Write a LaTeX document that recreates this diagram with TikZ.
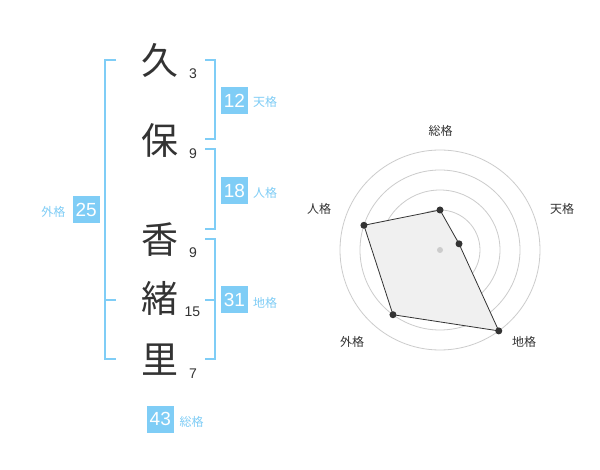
\documentclass[tikz,border=0pt]{standalone}
\usepackage{fontspec}
\setmainfont{Liberation Sans}
\newfontfamily\cjk{Noto Sans CJK JP}
\definecolor{dark}{HTML}{333333}
\definecolor{boxblue}{HTML}{7FCDF6}
\definecolor{lblblue}{HTML}{7FCDF6}
\definecolor{ringgray}{HTML}{CCCCCC}
\definecolor{polyfill}{HTML}{F0F0F0}
\tikzset{
  kanji/.style={inner sep=0pt, text=dark, font=\cjk\fontsize{37}{37}\selectfont},
  strokes/.style={inner sep=0pt, text=dark, font=\fontsize{14}{14}\selectfont},
  valbox/.style={fill=boxblue, text=white, minimum size=27pt, inner sep=0pt, font=\fontsize{19}{19}\selectfont},
  lbl/.style={inner sep=0pt, text=lblblue, font=\cjk\fontsize{12}{12}\selectfont},
  brk/.style={draw=boxblue, line width=2pt},
  ring/.style={draw=ringgray, line width=0.8pt},
  radarlbl/.style={inner sep=0pt, text=dark, font=\cjk\fontsize{12}{12}\selectfont},
  poly/.style={draw=dark, fill=polyfill, line width=0.8pt},
  pdot/.style={circle, fill=dark, inner sep=0pt, minimum size=7pt},
  cdot/.style={circle, fill=ringgray, inner sep=0pt, minimum size=6pt}
}
\begin{document}
\begin{tikzpicture}[x=1pt,y=-1pt]
\useasboundingbox[fill=white] (0,0) rectangle (600,470);
% characters
\node[kanji] (k1) at (160,60) {久};
\node[kanji] (k2) at (160,140.5) {保};
\node[kanji] (k3) at (160,240) {香};
\node[kanji] (k4) at (160,298.5) {緒};
\node[kanji] (k5) at (160,360) {里};
\node[strokes] (s1) at (193,73.3) {3};
\node[strokes] (s2) at (193,153.3) {9};
\node[strokes] (s3) at (193,252.7) {9};
\node[strokes] (s4) at (192.5,311.7) {15};
\node[strokes] (s5) at (193,373.3) {7};
% brackets
\draw[brk] (116,60) -- (105,60) -- (105,359.5) -- (116,359.5);
\draw[brk] (105,300) -- (116,300);
\draw[brk] (205,60) -- (214.5,60) -- (214.5,139.3) -- (205,139.3);
\draw[brk] (205,149) -- (214.5,149) -- (214.5,229.5) -- (205,229.5);
\draw[brk] (205,239.5) -- (214.5,239.5) -- (214.5,359.5) -- (205,359.5);
\draw[brk] (205,300) -- (214.5,300);
% value boxes
\node[valbox] (ten) at (234.5,100.5) {12};
\node[lbl] (tenl) at (265,102) {天格};
\node[valbox] (jin) at (234.5,190.7) {18};
\node[lbl] (jinl) at (265,193) {人格};
\node[valbox] (chi) at (234.5,300) {31};
\node[lbl] (chil) at (265,303) {地格};
\node[valbox] (gai) at (86.2,209.5) {25};
\node[lbl] (gail) at (53.3,212) {外格};
\node[valbox] (sou) at (160.3,419) {43};
\node[lbl] (soul) at (191.7,422) {総格};
% radar
\coordinate (c) at (440,250);
\foreach \r in {20,40,60,80,100} \draw[ring] (c) circle[radius=\r];
\coordinate (pz) at (440,210);
\coordinate (pt) at (459.02,243.82);
\coordinate (pc) at (498.78,330.90);
\coordinate (pg) at (392.98,314.72);
\coordinate (pj) at (363.92,225.28);
\draw[poly] (pz) -- (pt) -- (pc) -- (pg) -- (pj) -- cycle;
\node[cdot] (dc) at (c) {};
\node[pdot] (dz) at (pz) {};
\node[pdot] (dt) at (pt) {};
\node[pdot] (dch) at (pc) {};
\node[pdot] (dg) at (pg) {};
\node[pdot] (dj) at (pj) {};
\node[radarlbl] (rz) at (440.5,130.5) {総格};
\node[radarlbl] (rt) at (562,208.5) {天格};
\node[radarlbl] (rj) at (319,208.5) {人格};
\node[radarlbl] (rg) at (352,342) {外格};
\node[radarlbl] (rc) at (524,342) {地格};
\end{tikzpicture}
\end{document}
